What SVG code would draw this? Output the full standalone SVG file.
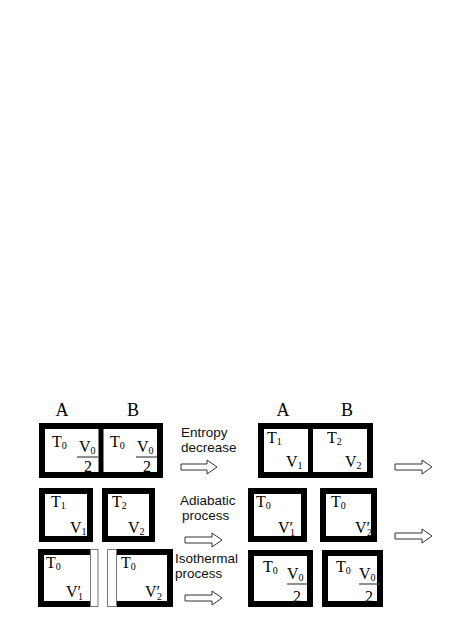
<svg xmlns="http://www.w3.org/2000/svg" width="452" height="640" viewBox="0 0 452 640">
<style>
.frame{fill:#fff;stroke:#000;stroke-width:6}
.open{fill:none;stroke:#000;stroke-width:6}
.div{stroke:#000;stroke-width:5}
.piston{fill:#fff;stroke:#777;stroke-width:1}
.s{font-family:"Liberation Serif","Times New Roman",serif;font-size:16px;fill:#000}
.sub{font-size:10px}
.lab{font-family:"Liberation Serif","Times New Roman",serif;font-size:18px;fill:#000}
.t{font-family:"Liberation Sans",Arial,sans-serif;font-size:13.5px;fill:#111}
.fl{stroke:#444;stroke-width:1.2}
.arr{fill:#fff;stroke:#333;stroke-width:1}
</style>
<rect width="452" height="640" fill="#fff"/>
<g id="labels">
<text class="lab" x="62" y="416" text-anchor="middle">A</text>
<text class="lab" x="133" y="416" text-anchor="middle">B</text>
<text class="lab" x="283" y="416" text-anchor="middle">A</text>
<text class="lab" x="347" y="416" text-anchor="middle">B</text>
</g>
<g id="box-initial">
<rect class="frame" x="42" y="426" width="118" height="49"/>
<line class="div" x1="101" y1="426" x2="101" y2="475"/>
<text class="s" x="52" y="447">T<tspan class="sub" dy="2">0</tspan></text>
<text class="s" x="79" y="452">V<tspan class="sub" dy="2">0</tspan></text>
<line class="fl" x1="77" y1="457" x2="98" y2="457"/>
<text class="s" x="84" y="472">2</text>
<text class="s" x="110" y="447">T<tspan class="sub" dy="2">0</tspan></text>
<text class="s" x="137" y="452">V<tspan class="sub" dy="2">0</tspan></text>
<line class="fl" x1="136" y1="457" x2="157" y2="457"/>
<text class="s" x="143" y="472">2</text>
</g>
<g id="box-after">
<rect class="frame" x="261" y="426" width="109" height="49"/>
<line class="div" x1="310.5" y1="426" x2="310.5" y2="475"/>
<text class="s" x="267" y="443">T<tspan class="sub" dy="2">1</tspan></text>
<text class="s" x="286" y="467">V<tspan class="sub" dy="2">1</tspan></text>
<text class="s" x="327" y="443">T<tspan class="sub" dy="2">2</tspan></text>
<text class="s" x="345" y="467">V<tspan class="sub" dy="2">2</tspan></text>
</g>
<g id="box-r2-1">
<rect class="frame" x="42" y="491" width="48" height="48"/>
<text class="s" x="51" y="507">T<tspan class="sub" dy="2">1</tspan></text>
<text class="s" x="70" y="533">V<tspan class="sub" dy="2">1</tspan></text>
</g>
<g id="box-r2-2">
<rect class="frame" x="105" y="491" width="47" height="48"/>
<text class="s" x="112" y="507">T<tspan class="sub" dy="2">2</tspan></text>
<text class="s" x="128" y="533">V<tspan class="sub" dy="2">2</tspan></text>
</g>
<g id="box-r2-3">
<rect class="frame" x="251" y="491" width="53" height="48"/>
<text class="s" x="256" y="507">T<tspan class="sub" dy="2">0</tspan></text>
<text class="s" x="278" y="533">V′<tspan class="sub" dx="-3" dy="3">1</tspan></text>
</g>
<g id="box-r2-4">
<rect class="frame" x="323" y="491" width="51" height="48"/>
<text class="s" x="331" y="507">T<tspan class="sub" dy="2">0</tspan></text>
<text class="s" x="355" y="533">V′<tspan class="sub" dx="-3" dy="3">2</tspan></text>
</g>
<g id="box-r3-1">
<rect fill="#fff" x="41" y="552" width="49" height="52"/>
<path class="open" d="M90,552 H41 V604 H90"/>
<rect class="piston" x="90.5" y="549.5" width="7.5" height="57"/>
<text class="s" x="46" y="568">T<tspan class="sub" dy="2">0</tspan></text>
<text class="s" x="66" y="597">V′<tspan class="sub" dx="-3" dy="3">1</tspan></text>
</g>
<g id="box-r3-2">
<rect fill="#fff" x="117" y="552" width="53" height="52"/>
<path class="open" d="M117,552 H170 V604 H117"/>
<rect class="piston" x="107.5" y="549.5" width="9" height="57"/>
<text class="s" x="121" y="568">T<tspan class="sub" dy="2">0</tspan></text>
<text class="s" x="145" y="597">V′<tspan class="sub" dx="-3" dy="3">2</tspan></text>
</g>
<g id="box-r3-3">
<rect class="frame" x="251" y="553" width="59" height="51"/>
<text class="s" x="263" y="572">T<tspan class="sub" dy="2">0</tspan></text>
<text class="s" x="287" y="579">V<tspan class="sub" dy="2">0</tspan></text>
<line class="fl" x1="287" y1="584" x2="307" y2="584"/>
<text class="s" x="293" y="602">2</text>
</g>
<g id="box-r3-4">
<rect class="frame" x="325" y="553" width="55" height="51"/>
<text class="s" x="336" y="572">T<tspan class="sub" dy="2">0</tspan></text>
<text class="s" x="359" y="579">V<tspan class="sub" dy="2">0</tspan></text>
<line class="fl" x1="359" y1="584" x2="380" y2="584"/>
<text class="s" x="365" y="602">2</text>
</g>
<g id="captions">
<text class="t" x="181" y="437">Entropy</text>
<text class="t" x="181" y="452">decrease</text>
<text class="t" x="180" y="505">Adiabatic</text>
<text class="t" x="182" y="520">process</text>
<text class="t" x="175" y="563">Isothermal</text>
<text class="t" x="175" y="578">process</text>
</g>
<g id="connectors">
<polygon class="arr" points="181,464 207,464 207,460 217,467 207,474 207,470 181,470"/>
<polygon class="arr" points="185,537 212,537 212,533 222,540 212,547 212,543 185,543"/>
<polygon class="arr" points="185,595 212,595 212,591 222,598 212,605 212,601 185,601"/>
<polygon class="arr" points="395,464 422,464 422,460 432,467 422,474 422,470 395,470"/>
<polygon class="arr" points="395,533 422,533 422,529 432,536 422,543 422,539 395,539"/>
</g>
</svg>
